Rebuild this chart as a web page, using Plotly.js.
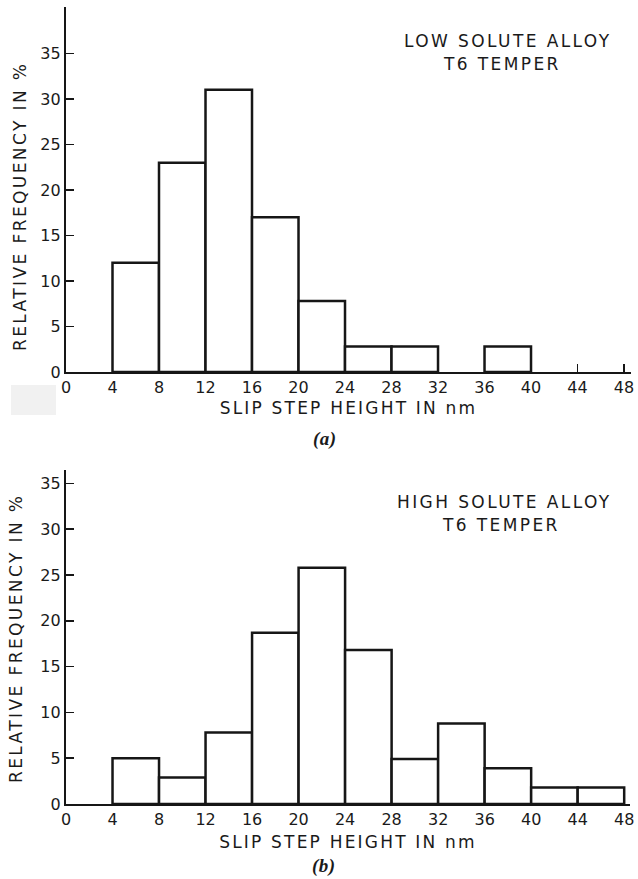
<!DOCTYPE html>
<html>
<head>
<meta charset="utf-8">
<script src="https://cdn.plot.ly/plotly-3.0.1.min.js"></script>
<style>
  html, body { margin: 0; padding: 0; background: #fff; }
  #chart { width: 638px; height: 879px; }
  .annotation-text { letter-spacing: 2.4px; }
  .xtitle, .x2title { letter-spacing: 2.2px; }
  text[data-unformatted="(a)"], text[data-unformatted="(b)"] { letter-spacing: 0.5px; }
</style>
</head>
<body>
<div id="chart"></div>
<script>
// Panel (a): low solute alloy, T6 temper
var binStartsA = [4, 8, 12, 16, 20, 24, 28, 36];
var freqA      = [12, 23, 31, 17, 7.8, 2.8, 2.8, 2.8];

// Panel (b): high solute alloy, T6 temper
var binStartsB = [4, 8, 12, 16, 20, 24, 28, 32, 36, 40, 44];
var freqB      = [5, 2.9, 7.8, 18.7, 25.8, 16.8, 4.9, 8.8, 3.9, 1.8, 1.8];

var binWidth = 4;
var xTicks = [0, 4, 8, 12, 16, 20, 24, 28, 32, 36, 40, 44, 48];
var yTicks = [0, 5, 10, 15, 20, 25, 30, 35];

var xTitle = 'SLIP STEP HEIGHT IN nm';
var yTitle = 'RELATIVE FREQUENCY IN %';
var labelA = ['LOW SOLUTE ALLOY', 'T6 TEMPER'];
var labelB = ['HIGH SOLUTE ALLOY', 'T6 TEMPER'];
var captions = ['(a)', '(b)'];

var W = 638, H = 879;
function px(x) { return x / W; }
function py(y) { return 1 - y / H; }

var ink = '#1a1a1a';
var lineInk = '#161616';
var sans = 'DejaVu Sans, sans-serif';

function barTrace(xs, ys, xa, ya) {
  return {
    type: 'bar',
    x: xs, y: ys,
    width: binWidth, offset: 0,
    xaxis: xa, yaxis: ya,
    marker: { color: '#ffffff', line: { color: lineInk, width: 2.5 } },
    hoverinfo: 'x+y',
    showlegend: false
  };
}

var data = [
  barTrace(binStartsA, freqA, 'x', 'y'),
  barTrace(binStartsB, freqB, 'x2', 'y2')
];

function xAxis(domain, range, anchor, standoff) {
  return {
    domain: domain, range: range, anchor: anchor,
    tickmode: 'array', tickvals: xTicks, ticktext: xTicks.map(String),
    ticks: 'inside', ticklen: 8, tickwidth: 1.6, tickcolor: lineInk,
    showline: true, linecolor: lineInk, linewidth: 2.2,
    showgrid: false, zeroline: false,
    tickfont: { family: sans, size: 16, color: ink },
    title: { text: xTitle, font: { family: sans, size: 17, color: ink }, standoff: standoff },
    automargin: false, fixedrange: true
  };
}
function yAxis(domain, range, anchor) {
  return {
    domain: domain, range: range, anchor: anchor,
    tickmode: 'array', tickvals: yTicks, ticktext: yTicks.map(String),
    ticks: 'inside', ticklen: 8, tickwidth: 1.6, tickcolor: lineInk,
    showline: true, linecolor: lineInk, linewidth: 2.2,
    showgrid: false, zeroline: false,
    tickfont: { family: sans, size: 16, color: ink },
    automargin: false, fixedrange: true
  };
}

function note(text, x, y, opts) {
  var o = {
    text: text, xref: 'paper', yref: 'paper',
    x: px(x), y: py(y), xanchor: 'center', yanchor: 'middle',
    showarrow: false,
    font: { family: sans, size: 17, color: ink }
  };
  for (var k in opts) o[k] = opts[k];
  return o;
}

var captionFont = { family: 'Liberation Serif, serif', size: 19, color: ink, style: 'italic', weight: 'bold' };

var layout = {
  width: W, height: H,
  margin: { l: 0, r: 0, t: 0, b: 0, pad: 0 },
  paper_bgcolor: '#ffffff', plot_bgcolor: 'rgba(0,0,0,0)',
  bargap: 0,
  xaxis:  xAxis([px(66), px(631)], [0, 48.6], 'y', 6),
  yaxis:  yAxis([py(372), py(7)], [0, 40.1], 'x'),
  xaxis2: xAxis([px(66), px(630)], [0, 48.5], 'y2', 8),
  yaxis2: yAxis([py(804), py(470)], [0, 36.46], 'x2'),
  annotations: [
    note(labelA[0], 507, 41),
    note(labelA[1], 502, 64),
    note(labelB[0], 504, 502),
    note(labelB[1], 501, 525),
    note(yTitle, 20, 207, { textangle: -90 }),
    note(yTitle, 16, 639, { textangle: -90 }),
    note(captions[0], 325, 439, { font: captionFont }),
    note(captions[1], 324, 866, { font: captionFont })
  ],
  shapes: [
    { type: 'rect', xref: 'paper', yref: 'paper', layer: 'below',
      x0: px(11), x1: px(56), y0: py(415), y1: py(385),
      fillcolor: '#f1f1f1', line: { width: 0 } }
  ]
};

Plotly.newPlot('chart', data, layout, { staticPlot: true, displayModeBar: false });
</script>
</body>
</html>
